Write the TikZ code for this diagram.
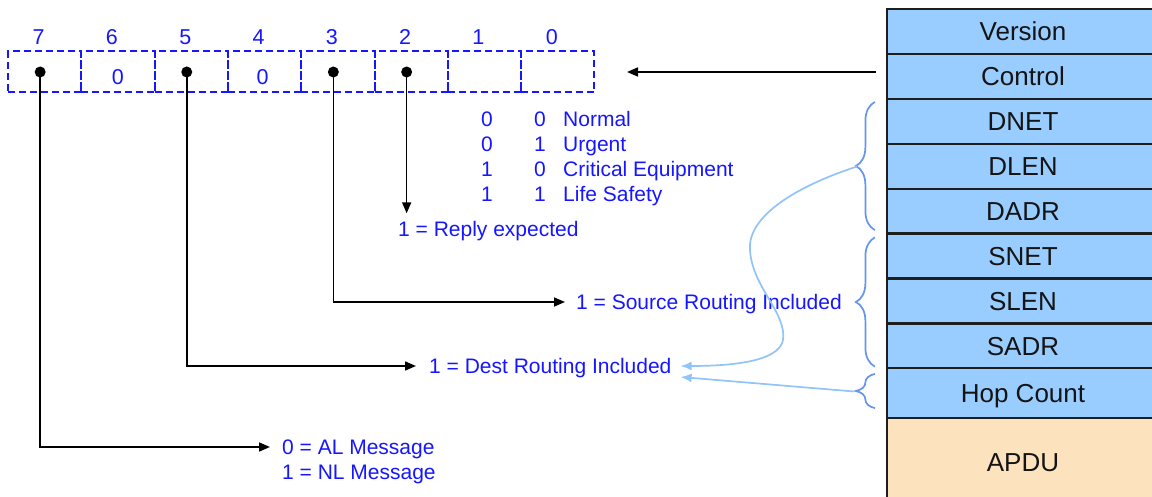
\documentclass[tikz,border=0pt]{standalone}
\usepackage{fontspec}
\setmainfont{Liberation Sans}
\usetikzlibrary{arrows.meta,decorations.pathreplacing,calc}
\definecolor{fieldblue}{RGB}{153,204,255}
\definecolor{apducol}{RGB}{252,227,190}
\definecolor{txtblue}{RGB}{22,22,255}
\definecolor{bracecol}{RGB}{100,150,238}
\definecolor{linkcol}{RGB}{145,196,250}
\definecolor{edgecol}{RGB}{30,30,30}

\begin{document}
\begin{tikzpicture}[x=1pt,y=-1pt,
  bitbox/.style={draw=txtblue, dash pattern=on 7pt off 4pt, line width=2pt,
    minimum width=73.3pt, minimum height=41pt, inner sep=0pt},
  bitnum/.style={text=txtblue, font=\fontsize{21.5}{25}\selectfont, inner sep=0pt,
    text height=15.4pt, text depth=0pt},
  bitdot/.style={circle, fill=black, inner sep=0pt, minimum size=11pt},
  note/.style={text=txtblue, font=\fontsize{21}{25}\selectfont, inner sep=0pt,
    text height=15pt, text depth=0pt, anchor=west},
  prio/.style={text=txtblue, font=\fontsize{21}{25}\selectfont, inner sep=0pt,
    text height=15pt, text depth=0pt},
  field/.style={draw=edgecol, line width=2.2pt, fill=fieldblue, minimum width=272pt,
    minimum height=45pt, inner sep=0pt, font=\fontsize{26}{30}\selectfont,
    text=black!92, text height=18.6pt, text depth=0pt},
  ptr/.style={-{Triangle[length=11pt,width=9pt]}, line width=1.6pt},
  grp/.style={draw=bracecol, line width=1.7pt, decorate,
    decoration={brace, amplitude=19pt}},
  link/.style={draw=linkcol, line width=1.7pt, -{Latex[length=11pt,width=9pt]}},
]
\clip (0,0) rectangle (1152,497);
\fill[white] (0,0) rectangle (1152,497);

% ---- NPDU header fields ----
\node[field] (version) at (1023,31.5) {Version};
\node[field] (control) at (1023,76.5) {Control};
\node[field] (dnet)    at (1023,121.5) {DNET};
\node[field] (dlen)    at (1023,166.5) {DLEN};
\node[field] (dadr)    at (1023,211.5) {DADR};
\node[field] (snet)    at (1023,256) {SNET};
\node[field] (slen)    at (1023,301) {SLEN};
\node[field] (sadr)    at (1023,346) {SADR};
\node[field, minimum height=50pt] (hop) at (1023,393) {Hop Count};
\node[field, fill=apducol, minimum height=88pt] (apdu) at (1023,462) {APDU};

% ---- control octet bits ----
\foreach \k/\b in {0/7,1/6,2/5,3/4,4/3,5/2,6/1,7/0}{
  \node[bitbox] (b\b) at ({8+73.3*(\k+0.5)},72) {};
  \node[bitnum] (n\b) at ($(b\b)+(-6,-35)$) {\b};
}
\node[bitnum] (z6) at ($(b6)+(0,5)$) {0};
\node[bitnum] (z4) at ($(b4)+(-2,5)$) {0};
\foreach \b in {7,5,3,2}{
  \node[bitdot] (d\b) at ($(b\b)+(-4.5,0)$) {};
}

% ---- priority table ----
\foreach \r/\p/\q/\t in {119/0/0/Normal,144/0/1/Urgent,169/1/0/Critical Equipment,194/1/1/Life Safety}{
  \node[prio] at (487,\r) {\p};
  \node[prio] at (540,\r) {\q};
  \node[note] at (563,\r) {\t};
}

% ---- bit meanings ----
\node[note] (reply) at (398,229) {1 = Reply expected};
\node[note] (src)   at (576,302) {1 = Source Routing Included};
\node[note] (dest)  at (429,366) {1 = Dest Routing Included};
\node[note] (al)    at (282,447) {0 = AL Message};
\node[note] (nl)    at (282,472) {1 = NL Message};

\draw[ptr] (d2.center) -- ($(d2 |- reply.north)+(0,-8)$);
\draw[ptr] (d3.center) |- ($(src.west)+(-11,0)$);
\draw[ptr] (d5.center) |- ($(dest.west)+(-13,0)$);
\draw[ptr] (d7.center) |- ($(al.west)+(-12,0)$);

% ---- control field pointer ----
\coordinate (ctltip) at (627,72);
\draw[ptr] ($(control.west |- ctltip)+(-10,0)$) -- (ctltip);

% ---- groups of address fields ----
\draw[grp] ($(dadr.south west)+(-11,-5)$) -- ($(dnet.north west)+(-11,4)$);
\draw[grp] ($(sadr.south west)+(-11,-3)$) -- ($(snet.north west)+(-11,5)$);
\draw[grp] ($(hop.south west)+(-11,-11)$) -- ($(hop.north west)+(-11,7)$);

\coordinate (tipD) at (857,166.5);
\coordinate (tipH) at (854,391.5);
\coordinate (inA) at ($(dest.east)+(9,0)$);
\coordinate (inB) at ($(dest.east)+(9,11)$);

\draw[link] (tipD) .. controls (800,185) and (747,215) .. (750,250)
  .. controls (752,287) and (787,313) .. (783,340)
  .. controls (779,362) and (730,366) .. (inA);
\draw[link] (tipH) -- (inB);
\end{tikzpicture}
\end{document}
